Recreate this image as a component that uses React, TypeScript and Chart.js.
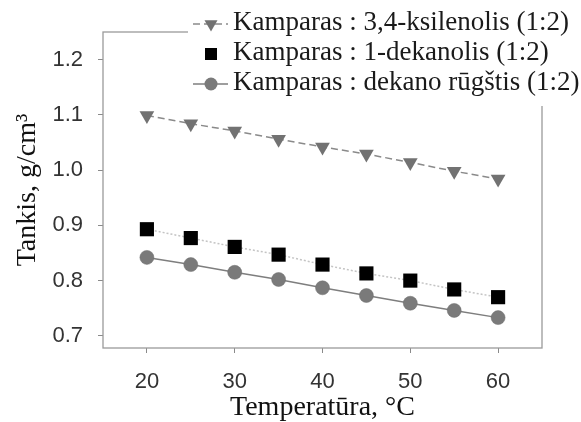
import React, { useEffect, useRef } from 'react';
import { Chart, registerables } from 'chart.js';

Chart.register(...registerables);

const temperatures = [20, 25, 30, 35, 40, 45, 50, 55, 60];
const xylenolSeries = [1.099, 1.084, 1.071, 1.056, 1.042, 1.029, 1.014, 0.998, 0.984];
const decanolSeries = [0.893, 0.877, 0.861, 0.847, 0.829, 0.813, 0.8, 0.784, 0.77];
const decanoicSeries = [0.842, 0.829, 0.815, 0.802, 0.787, 0.773, 0.759, 0.746, 0.733];
const seriesLabels = [
  'Kamparas : 3,4-ksilenolis (1:2)',
  'Kamparas : 1-dekanolis (1:2)',
  'Kamparas : dekano rūgštis (1:2)',
];
const xTickValues = [20, 30, 40, 50, 60];
const yTickValues = [0.7, 0.8, 0.9, 1.0, 1.1, 1.2];
const xTitle = 'Temperatūra, °C';
const yTitle = 'Tankis, g/cm³';

const TRI_COLOR = '#727272';
const CIRC_COLOR = '#7a7a7a';

function drawMarker(ctx: CanvasRenderingContext2D, kind: string, x: number, y: number) {
  ctx.save();
  ctx.setLineDash([]);
  if (kind === 'triangle') {
    const r = 7.5;
    ctx.fillStyle = TRI_COLOR;
    ctx.beginPath();
    ctx.moveTo(x - r * 0.866, y - r / 2);
    ctx.lineTo(x + r * 0.866, y - r / 2);
    ctx.lineTo(x, y + r);
    ctx.closePath();
    ctx.fill();
  } else if (kind === 'rect') {
    ctx.fillStyle = '#000';
    ctx.fillRect(x - 6, y - 6, 12, 12);
  } else {
    ctx.fillStyle = CIRC_COLOR;
    ctx.beginPath();
    ctx.arc(x, y, 6.5, 0, Math.PI * 2);
    ctx.fill();
  }
  ctx.restore();
}

const framePlugin = {
  id: 'frame',
  beforeDatasetsDraw(chart: any) {
    const { ctx, chartArea } = chart;
    ctx.save();
    ctx.strokeStyle = '#9a9a9a';
    ctx.lineWidth = 1.3;
    ctx.strokeRect(chartArea.left, chartArea.top, chartArea.right - chartArea.left, chartArea.bottom - chartArea.top);
    ctx.restore();
  },
};

const legendPlugin = {
  id: 'overlayLegend',
  afterDraw(chart: any) {
    const ctx: CanvasRenderingContext2D = chart.ctx;
    ctx.save();
    ctx.fillStyle = '#ffffff';
    ctx.fillRect(188, 0, 400, 106);
    const kinds = ['triangle', 'rect', 'circle'];
    chart.data.datasets.forEach((ds: any, i: number) => {
      const baseY = 30 + i * 30;
      const cy = baseY - 6;
      if (i !== 1) {
        ctx.save();
        ctx.strokeStyle = ds.borderColor;
        ctx.lineWidth = ds.borderWidth;
        ctx.setLineDash(ds.borderDash || []);
        ctx.beginPath();
        ctx.moveTo(193, cy);
        ctx.lineTo(228, cy);
        ctx.stroke();
        ctx.restore();
      }
      drawMarker(ctx, kinds[i], 211, cy);
      ctx.fillStyle = '#1a1a1a';
      ctx.font = '27px "Liberation Serif", "Times New Roman", serif';
      ctx.textBaseline = 'alphabetic';
      ctx.textAlign = 'left';
      ctx.fillText(ds.label, 233, baseY);
    });
    ctx.restore();
  },
};

export default function App() {
  const canvasRef = useRef<HTMLCanvasElement | null>(null);

  useEffect(() => {
    const canvas = canvasRef.current;
    if (!canvas) return;
    const tickFont = { family: '"Liberation Sans", Arial, sans-serif', size: 22 };
    const titleFont = { family: '"Liberation Serif", "Times New Roman", serif', size: 28, lineHeight: 1 };
    const chart = new Chart(canvas, {
      type: 'line',
      data: {
        datasets: [
          {
            label: seriesLabels[0],
            data: temperatures.map((t, i) => ({ x: t, y: xylenolSeries[i] })),
            borderColor: '#8a8a8a',
            borderWidth: 1.5,
            borderDash: [7, 4],
            pointStyle: 'triangle',
            pointRotation: 180,
            pointRadius: 8.5,
            pointBackgroundColor: TRI_COLOR,
            pointBorderColor: TRI_COLOR,
            pointBorderWidth: 0,
          },
          {
            label: seriesLabels[1],
            data: temperatures.map((t, i) => ({ x: t, y: decanolSeries[i] })),
            borderColor: '#c4c4c4',
            borderWidth: 1.5,
            borderDash: [2, 2],
            pointStyle: 'rect',
            pointRadius: 10,
            pointBackgroundColor: '#000',
            pointBorderColor: '#000',
            pointBorderWidth: 0,
          },
          {
            label: seriesLabels[2],
            data: temperatures.map((t, i) => ({ x: t, y: decanoicSeries[i] })),
            borderColor: '#7e7e7e',
            borderWidth: 1.5,
            pointStyle: 'circle',
            pointRadius: 7,
            pointBackgroundColor: CIRC_COLOR,
            pointBorderColor: '#6e6e6e',
            pointBorderWidth: 0.5,
          },
        ],
      },
      options: {
        responsive: false,
        animation: false,
        layout: { padding: { top: 32, right: 39, left: 0, bottom: 0 } },
        plugins: { legend: { display: false }, tooltip: { enabled: false } },
        scales: {
          x: {
            type: 'linear',
            min: 15,
            max: 65,
            afterBuildTicks: (s: any) => {
              s.ticks = xTickValues.map((v) => ({ value: v }));
            },
            afterFit: (s: any) => {
              s.height = 74;
            },
            grid: { drawOnChartArea: false, drawTicks: true, tickLength: 5, color: '#8a8a8a' },
            border: { display: false },
            ticks: { font: tickFont, color: '#333', padding: 16, maxRotation: 0, callback: (v: any) => String(v) },
            title: { display: true, text: xTitle, font: titleFont, color: '#111', padding: { top: 0, bottom: 0 } },
          },
          y: {
            type: 'linear',
            min: 0.678,
            max: 1.25,
            afterBuildTicks: (s: any) => {
              s.ticks = yTickValues.map((v) => ({ value: v }));
            },
            afterFit: (s: any) => {
              s.width = 103;
            },
            grid: { drawOnChartArea: false, drawTicks: true, tickLength: 5, color: '#8a8a8a' },
            border: { display: false },
            ticks: { font: tickFont, color: '#333', padding: 15, callback: (v: any) => Number(v).toFixed(1) },
            title: { display: true, text: yTitle, font: titleFont, color: '#111', padding: { top: 14, bottom: 0 } },
          },
        },
      },
      plugins: [framePlugin, legendPlugin],
    });
    return () => chart.destroy();
  }, []);

  return (
    <div style={{ position: 'fixed', left: 0, top: 0, width: 581, height: 422, background: '#fff' }}>
      <canvas ref={canvasRef} width={581} height={422} style={{ display: 'block' }} />
    </div>
  );
}
